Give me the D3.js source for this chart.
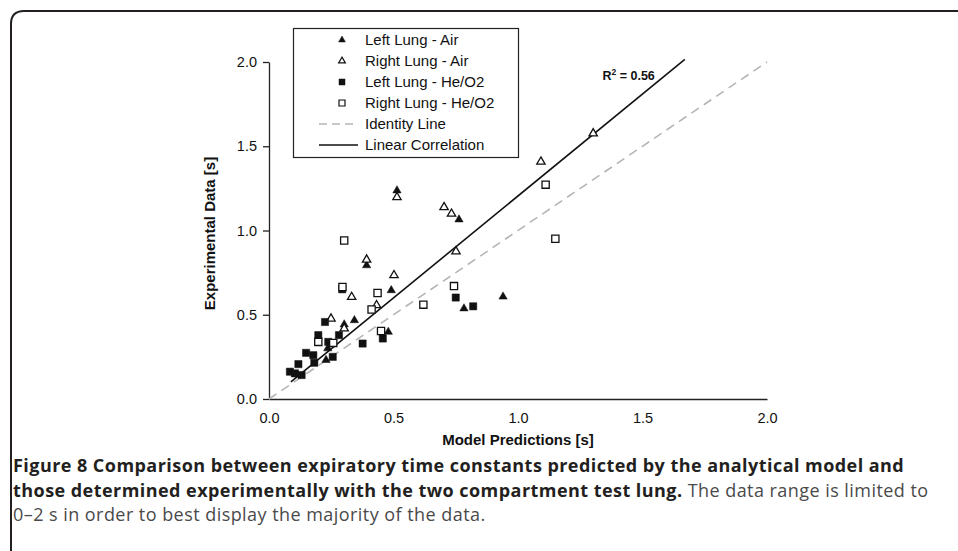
<!DOCTYPE html>
<html>
<head>
<meta charset="utf-8">
<script src="https://cdn.jsdelivr.net/npm/d3@7"></script>
<style>
    body { margin: 0; background: #fff; }
    svg { display: block; }
</style>
</head>
<body>
<div id="chart"></div>
<script>
const leftAir = [
    [0.514, 1.237], [0.763, 1.065], [0.392, 0.793], [0.491, 0.645], [0.940, 0.607],
    [0.783, 0.537], [0.343, 0.467], [0.302, 0.442], [0.479, 0.398], [0.236, 0.300],
    [0.229, 0.231]
]
const rightAir = [
    [1.302, 1.576], [1.092, 1.408], [0.514, 1.197], [0.703, 1.138], [0.733, 1.099],
    [0.751, 0.876], [0.392, 0.827], [0.502, 0.734], [0.332, 0.605], [0.432, 0.556],
    [0.249, 0.477], [0.302, 0.418]
]
const leftHeO2 = [
    [0.294, 0.651], [0.750, 0.602], [0.820, 0.550], [0.225, 0.457], [0.457, 0.359],
    [0.376, 0.329], [0.198, 0.379], [0.281, 0.379], [0.238, 0.339], [0.256, 0.250],
    [0.149, 0.274], [0.178, 0.260], [0.182, 0.215], [0.118, 0.207], [0.084, 0.162],
    [0.104, 0.152], [0.131, 0.142]
]
const rightHeO2 = [
    [1.111, 1.272], [1.150, 0.951], [0.302, 0.941], [0.743, 0.670], [0.436, 0.629],
    [0.620, 0.560], [0.412, 0.531], [0.450, 0.404], [0.198, 0.339], [0.258, 0.333],
    [0.295, 0.665]
]
const identityLine = [[0, 0], [2, 2]]
const fitSlope = 1.21
const fitIntercept = -0.005
const fitRange = [0.088, 1.67]
const rSquared = '0.56'
const xTicks = [0, 0.5, 1, 1.5, 2]
const yTicks = [0, 0.5, 1, 1.5, 2]
const legendLabels = ['Left Lung - Air', 'Right Lung - Air', 'Left Lung - He/O2', 'Right Lung - He/O2', 'Identity Line', 'Linear Correlation']
const captionBold = ['Figure 8 Comparison between expiratory time constants predicted by the analytical model and',
    'those determined experimentally with the two compartment test lung.']
const captionPlain = [' The data range is limited to', '0\u20132 s in order to best display the majority of the data.']

const width = 958
const height = 551
const plot = {left: 269, right: 767, top: 62, bottom: 399}
const axisFont = 'Liberation Sans, Arial, sans-serif'
const ink = '#231f20'

const svg = d3.select('#chart').append('svg')
    .attr('width', width)
    .attr('height', height)
    .attr('viewBox', [0, 0, width, height])

svg.append('rect').attr('width', width).attr('height', height).attr('fill', '#fff')

//panel frame, rounded top-left corner
svg.append('path')
    .attr('d', 'M11,551 V24 Q11,11 24,11 H958')
    .attr('fill', 'none')
    .attr('stroke', ink)
    .attr('stroke-width', 2)

const x = d3.scaleLinear().domain([0, 2]).range([plot.left, plot.right])
const y = d3.scaleLinear().domain([0, 2]).range([plot.bottom, plot.top])

//add axis
svg.append('g')
    .attr('transform', `translate(0,${plot.bottom})`)
    .call(d3.axisBottom(x).tickValues(xTicks).tickFormat(d3.format('.1f')).tickSize(0).tickPadding(14))
    .call(g => g.select('.domain').attr('stroke', '#222').attr('stroke-width', 1.3))
    .call(g => g.selectAll('text').attr('font-family', axisFont).attr('font-size', 14.5).attr('fill', '#111'))

svg.append('g')
    .attr('transform', `translate(${plot.left},0)`)
    .call(d3.axisLeft(y).tickValues(yTicks).tickFormat(d3.format('.1f')).tickSizeInner(6).tickSizeOuter(0).tickPadding(6))
    .call(g => g.select('.domain').attr('stroke', '#222').attr('stroke-width', 1.3))
    .call(g => g.selectAll('.tick line').attr('stroke', '#222').attr('stroke-width', 1.3))
    .call(g => g.selectAll('text').attr('font-family', axisFont).attr('font-size', 14.5).attr('fill', '#111'))

//axis titles
svg.append('text')
    .attr('x', (plot.left + plot.right) / 2)
    .attr('y', 445)
    .attr('text-anchor', 'middle')
    .attr('font-family', axisFont)
    .attr('font-weight', 'bold')
    .attr('font-size', 15)
    .attr('fill', '#111')
    .text('Model Predictions [s]')

svg.append('text')
    .attr('transform', `translate(215,${(plot.top + plot.bottom) / 2 + 3}) rotate(-90)`)
    .attr('text-anchor', 'middle')
    .attr('font-family', axisFont)
    .attr('font-weight', 'bold')
    .attr('font-size', 15)
    .attr('fill', '#111')
    .text('Experimental Data [s]')

//identity and fitted lines
const line = d3.line().x(d => x(d[0])).y(d => y(d[1]))

svg.append('path')
    .datum(identityLine)
    .attr('d', line)
    .attr('fill', 'none')
    .attr('stroke', '#b5b5b5')
    .attr('stroke-width', 1.6)
    .attr('stroke-dasharray', '9,6')

svg.append('path')
    .datum(fitRange.map(v => [v, fitSlope * v + fitIntercept]))
    .attr('d', line)
    .attr('fill', 'none')
    .attr('stroke', '#111')
    .attr('stroke-width', 1.6)

svg.append('text')
    .attr('x', x(fitRange[1]) - 30)
    .attr('y', 80)
    .attr('text-anchor', 'end')
    .attr('font-family', axisFont)
    .attr('font-weight', 'bold')
    .attr('font-size', 12.5)
    .attr('fill', '#111')
    .text('R')
    .append('tspan').attr('baseline-shift', 'super').attr('font-size', 8.5).text('2')
    .select(function () { return this.parentNode })
    .append('tspan').text(` = ${rSquared}`)

//series markers
const series = [
    {data: leftAir, shape: d3.symbolTriangle, filled: true},
    {data: rightAir, shape: d3.symbolTriangle, filled: false},
    {data: leftHeO2, shape: d3.symbolSquare, filled: true},
    {data: rightHeO2, shape: d3.symbolSquare, filled: false}
]
const markerSize = s => s.shape === d3.symbolTriangle ? 30 : 52

series.forEach(s => {
    svg.append('g')
        .selectAll('path')
        .data(s.data)
        .join('path')
        .attr('transform', d => `translate(${x(d[0])},${y(d[1])})`)
        .attr('d', d3.symbol(s.shape, markerSize(s)))
        .attr('fill', s.filled ? '#111' : '#fff')
        .attr('stroke', '#111')
        .attr('stroke-width', s.filled ? 0.5 : 1.3)
})

//legend
const legend = svg.append('g')
legend.append('rect')
    .attr('x', 293.5).attr('y', 28.5)
    .attr('width', 225).attr('height', 129)
    .attr('fill', '#fff')
    .attr('stroke', '#222')
    .attr('stroke-width', 1.2)

const rows = legend.selectAll('g')
    .data(legendLabels)
    .join('g')
    .attr('transform', (_, i) => `translate(0,${40 + i * 21})`)

rows.filter((_, i) => i < 4)
    .append('path')
    .attr('transform', 'translate(342,0)')
    .attr('d', (_, i) => d3.symbol(series[i].shape, series[i].shape === d3.symbolTriangle ? 20 : 36)())
    .attr('fill', (_, i) => series[i].filled ? '#111' : '#fff')
    .attr('stroke', '#111')
    .attr('stroke-width', (_, i) => series[i].filled ? 0.5 : 1.2)

rows.filter((_, i) => i >= 4)
    .append('line')
    .attr('x1', 319).attr('x2', 358)
    .attr('stroke', (_, i) => i === 0 ? '#b5b5b5' : '#111')
    .attr('stroke-width', 1.5)
    .attr('stroke-dasharray', (_, i) => i === 0 ? '8,5' : null)

rows.append('text')
    .attr('x', 365)
    .attr('dy', '0.36em')
    .attr('font-family', axisFont)
    .attr('font-size', 15)
    .attr('fill', '#111')
    .text(d => d)

//caption
const caption = svg.append('g')
    .attr('font-family', 'Open Sans, sans-serif')
    .attr('font-size', 18)
    .attr('letter-spacing', 0.45)

const capLines = [0, 1, 2].map(i => caption.append('text').attr('x', 13).attr('y', 472 + i * 24.6))
capLines[0].append('tspan').attr('font-weight', 'bold').attr('fill', ink).text(captionBold[0])
capLines[1].append('tspan').attr('font-weight', 'bold').attr('fill', ink).text(captionBold[1])
capLines[1].append('tspan').attr('fill', '#4a4a4a').text(captionPlain[0])
capLines[2].append('tspan').attr('fill', '#4a4a4a').text(captionPlain[1])
</script>
</body>
</html>
